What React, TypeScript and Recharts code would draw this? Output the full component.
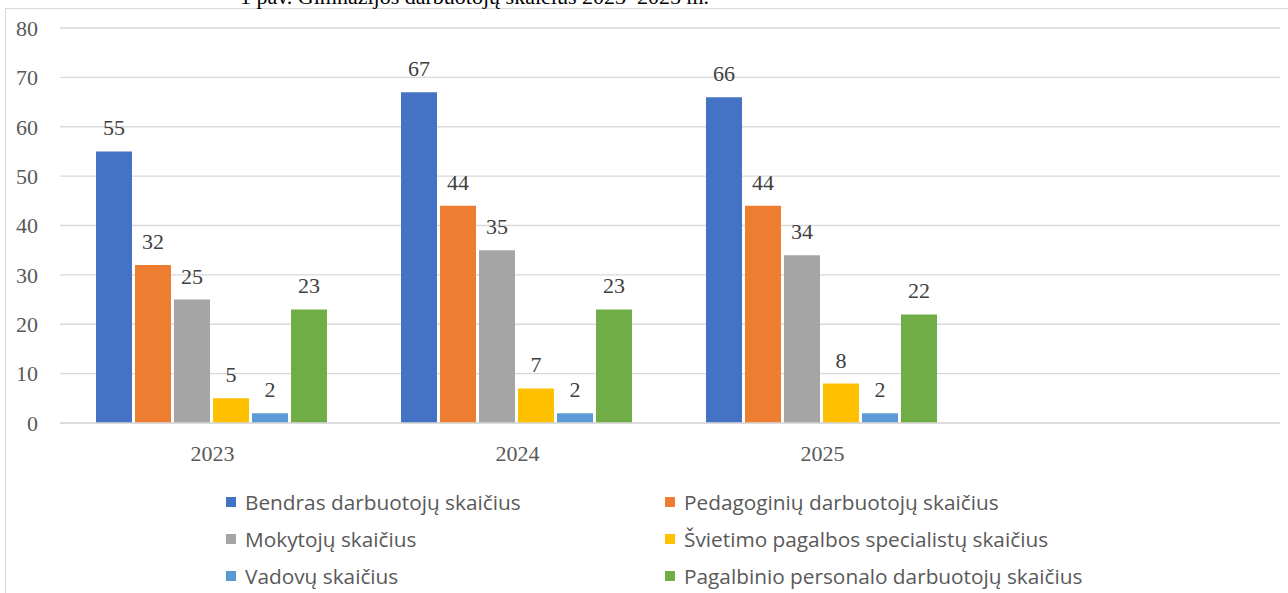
import React from 'react';
import { BarChart, Bar, XAxis, YAxis, CartesianGrid, LabelList } from 'recharts';

const categories = ['2023', '2024', '2025', ''];
const bendras = [55, 67, 66, null];
const pedagoginiu = [32, 44, 44, null];
const mokytoju = [25, 35, 34, null];
const svietimo = [5, 7, 8, null];
const vadovu = [2, 2, 2, null];
const pagalbinio = [23, 23, 22, null];

const seriesKeys = ['bendras', 'pedagoginiu', 'mokytoju', 'svietimo', 'vadovu', 'pagalbinio'];
const seriesValues = [bendras, pedagoginiu, mokytoju, svietimo, vadovu, pagalbinio];
const seriesNames = [
  'Bendras darbuotojų skaičius',
  'Pedagoginių darbuotojų skaičius',
  'Mokytojų skaičius',
  'Švietimo pagalbos specialistų skaičius',
  'Vadovų skaičius',
  'Pagalbinio personalo darbuotojų skaičius',
];
const colors = ['#4472C4', '#ED7D31', '#A5A5A5', '#FFC000', '#5B9BD5', '#70AD47'];
const yTicks = [0, 10, 20, 30, 40, 50, 60, 70, 80];
const title = '1 pav. Gimnazijos darbuotojų skaičius 2023–2025 m.';

const data = categories.map((c, i) => {
  const row: Record<string, any> = { category: c };
  seriesKeys.forEach((k, j) => {
    row[k] = seriesValues[j][i];
  });
  return row;
});

const serif = '"Liberation Serif", "Times New Roman", serif';
const sans = '"Open Sans", "Noto Sans", sans-serif';

export default function App() {
  const legendCols = [226, 665];
  const legendRows = [502, 539, 576];
  return (
    <div style={{ position: 'absolute', left: 0, top: 0, width: 1288, height: 593, overflow: 'hidden', background: '#fff' }}>
      <div
        style={{
          position: 'absolute',
          left: 5,
          top: 8,
          width: 1400,
          height: 700,
          border: '1.5px solid #d9d9d9',
          boxSizing: 'border-box',
        }}
      />
      <svg style={{ position: 'absolute', left: 0, top: 0 }} width={1288} height={20}>
        <text x={240} y={4} fontFamily={serif} fontSize={22} fill="#000">
          {title}
        </text>
      </svg>
      <div style={{ position: 'absolute', left: 0, top: 0 }}>
        <BarChart
          width={1288}
          height={593}
          data={data}
          margin={{ top: 28, right: 8, bottom: 140, left: 0 }}
          barCategoryGap={36}
          barGap={3}
        >
          <CartesianGrid vertical={false} stroke="#d9d9d9" strokeWidth={1.3} />
          <XAxis
            dataKey="category"
            axisLine={{ stroke: '#d9d9d9', strokeWidth: 1.3 }}
            tickLine={false}
            tickSize={0}
            tickMargin={22}
            height={30}
            tick={{ fontFamily: serif, fontSize: 22, fill: '#595959' }}
          />
          <YAxis
            width={60}
            domain={[0, 80]}
            ticks={yTicks}
            axisLine={false}
            tickLine={false}
            tickSize={0}
            tickMargin={22}
            tick={{ fontFamily: serif, fontSize: 22, fill: '#595959' }}
          />
          {seriesKeys.map((k, j) => (
            <Bar key={k} dataKey={k} name={seriesNames[j]} fill={colors[j]} isAnimationActive={false}>
              <LabelList
                dataKey={k}
                position="top"
                offset={16}
                style={{ fontFamily: serif, fontSize: 22, fill: '#404040' }}
              />
            </Bar>
          ))}
        </BarChart>
      </div>
      {seriesNames.map((name, i) => {
        const col = i % 2;
        const row = Math.floor(i / 2);
        return (
          <div
            key={name}
            style={{
              position: 'absolute',
              left: legendCols[col],
              top: legendRows[row] - 15,
              height: 30,
              display: 'flex',
              alignItems: 'center',
              whiteSpace: 'nowrap',
              fontFamily: sans,
              fontSize: 20.8,
              color: '#595959',
            }}
          >
            <span style={{ display: 'inline-block', width: 10, height: 10, background: colors[i], marginRight: 9 }} />
            <span>{name}</span>
          </div>
        );
      })}
    </div>
  );
}
